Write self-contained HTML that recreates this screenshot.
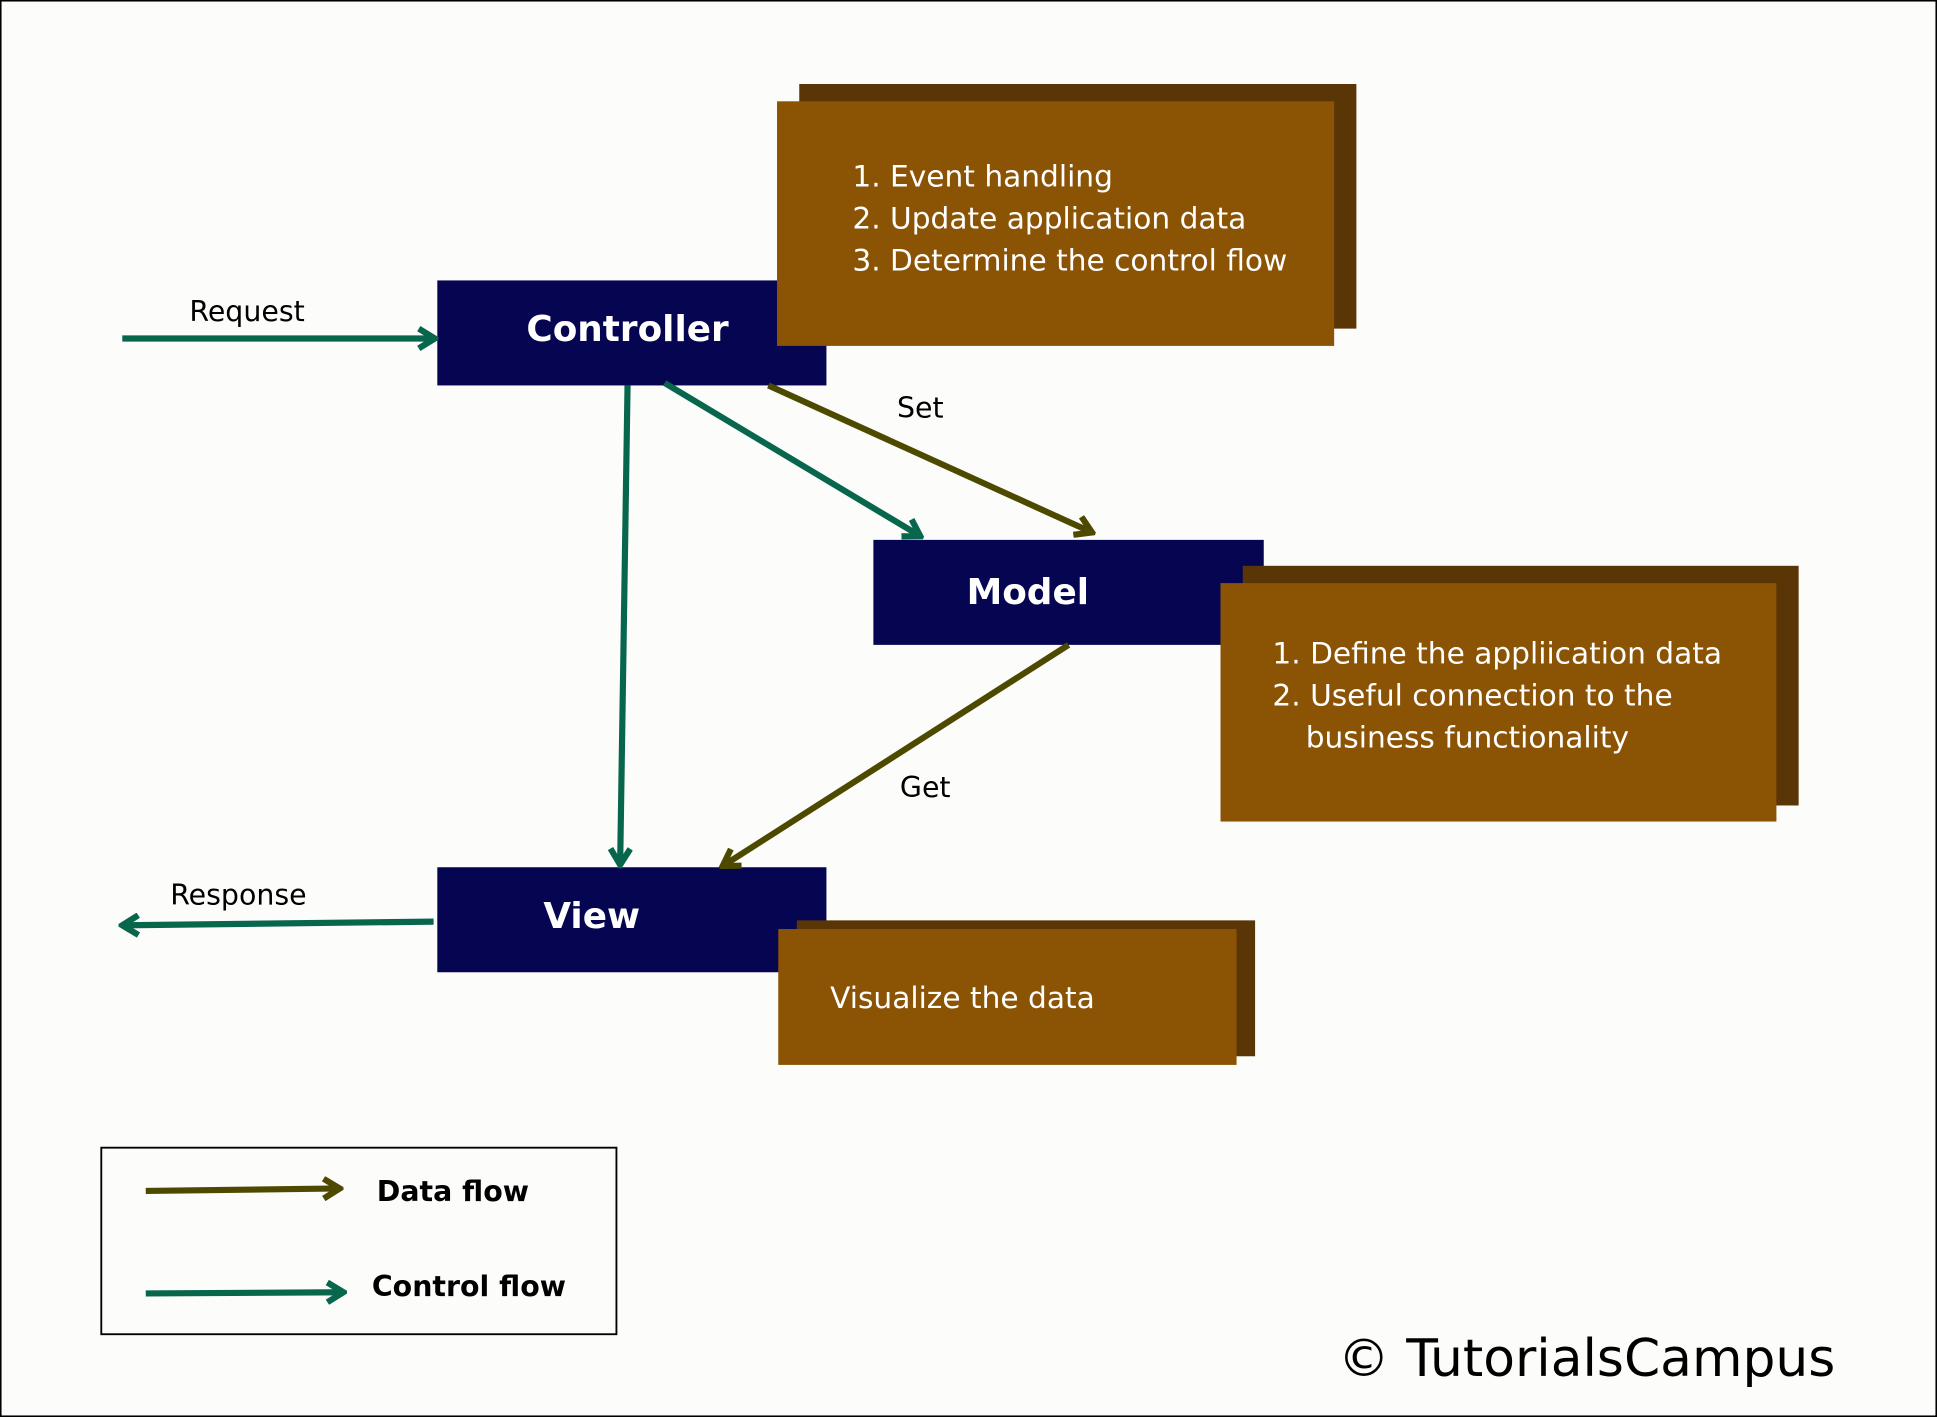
<!DOCTYPE html>
<html><head><style>
html,body{margin:0;padding:0;background:#fcfcfa;}
svg{display:block;}
text{font-family:"DejaVu Sans","Liberation Sans",sans-serif;}
</style></head><body>
<svg width="1937" height="1417" viewBox="0 0 1568 1147" preserveAspectRatio="none" xmlns="http://www.w3.org/2000/svg">
<defs>
<marker id="t" viewBox="0 0 20 20" refX="17" refY="10" markerWidth="4" markerHeight="4" orient="auto" markerUnits="strokeWidth">
<path d="M4 2 L17 10 L4 18" fill="none" stroke="#08664d" stroke-width="5"/></marker>
<marker id="o" viewBox="0 0 20 20" refX="17" refY="10" markerWidth="4" markerHeight="4" orient="auto" markerUnits="strokeWidth">
<path d="M4 2 L17 10 L4 18" fill="none" stroke="#4d4a00" stroke-width="5"/></marker>
</defs>
<rect x="0.5" y="0.5" width="1567" height="1146" fill="#fcfcfa" stroke="#000" stroke-width="1.5"/>

<!-- navy boxes -->
<rect x="354" y="227" width="315" height="85" fill="#050551"/>
<rect x="707" y="437" width="316" height="85" fill="#050551"/>
<rect x="354" y="702" width="315" height="85" fill="#050551"/>

<!-- brown boxes -->
<rect x="647" y="68" width="451" height="198" fill="#5a3506"/>
<rect x="629" y="82" width="451" height="198" fill="#8b5304"/>
<g fill="#fff" font-size="24">
<text x="690" y="151">1. Event handling</text>
<text x="690" y="185">2. Update application data</text>
<text x="690" y="219">3. Determine the control flow</text>
</g>
<rect x="1006" y="458" width="450" height="194" fill="#5a3506"/>
<rect x="988" y="472" width="450" height="193" fill="#8b5304"/>
<g fill="#fff" font-size="24">
<text x="1030" y="537">1. Define the appliication data</text>
<text x="1030" y="571">2. Useful connection to the</text>
<text x="1057" y="605">business functionality</text>
</g>
<rect x="645" y="745" width="371" height="110" fill="#5a3506"/>
<rect x="630" y="752" width="371" height="110" fill="#8b5304"/>
<text x="672" y="816" fill="#fff" font-size="24">Visualize the data</text>

<text x="508" y="276" fill="#fff" font-size="29" font-weight="bold" text-anchor="middle">Controller</text>
<text x="832" y="489" fill="#fff" font-size="29" font-weight="bold" text-anchor="middle">Model</text>
<text x="479" y="751" fill="#fff" font-size="29" font-weight="bold" text-anchor="middle">View</text>

<!-- arrows -->
<g stroke-width="5" fill="none">
<line x1="99" y1="274" x2="352" y2="274" stroke="#08664d" marker-end="url(#t)"/>
<line x1="508" y1="312" x2="502" y2="700" stroke="#08664d" marker-end="url(#t)"/>
<line x1="538" y1="310" x2="745" y2="434" stroke="#08664d" marker-end="url(#t)"/>
<line x1="622" y1="312" x2="884" y2="431" stroke="#4d4a00" marker-end="url(#o)"/>
<line x1="865" y1="522" x2="585" y2="701" stroke="#4d4a00" marker-end="url(#o)"/>
<line x1="351" y1="746" x2="99" y2="749" stroke="#08664d" marker-end="url(#t)"/>
<line x1="118" y1="964" x2="275" y2="962" stroke="#4d4a00" marker-end="url(#o)"/>
<line x1="118" y1="1047" x2="278" y2="1046" stroke="#08664d" marker-end="url(#t)"/>
</g>
<g fill="#000" font-size="23">
<text x="200" y="260" text-anchor="middle">Request</text>
<text x="745" y="338" text-anchor="middle">Set</text>
<text x="749" y="645" text-anchor="middle">Get</text>
<text x="193" y="732" text-anchor="middle">Response</text>
</g>

<!-- legend -->
<rect x="82" y="929" width="417" height="151" fill="none" stroke="#000" stroke-width="1.5"/>
<text x="305" y="972" font-size="23" font-weight="bold">Data flow</text>
<text x="301" y="1049" font-size="23" font-weight="bold">Control flow</text>

<text x="1083" y="1114" font-size="42">© TutorialsCampus</text>
</svg>
</body></html>
